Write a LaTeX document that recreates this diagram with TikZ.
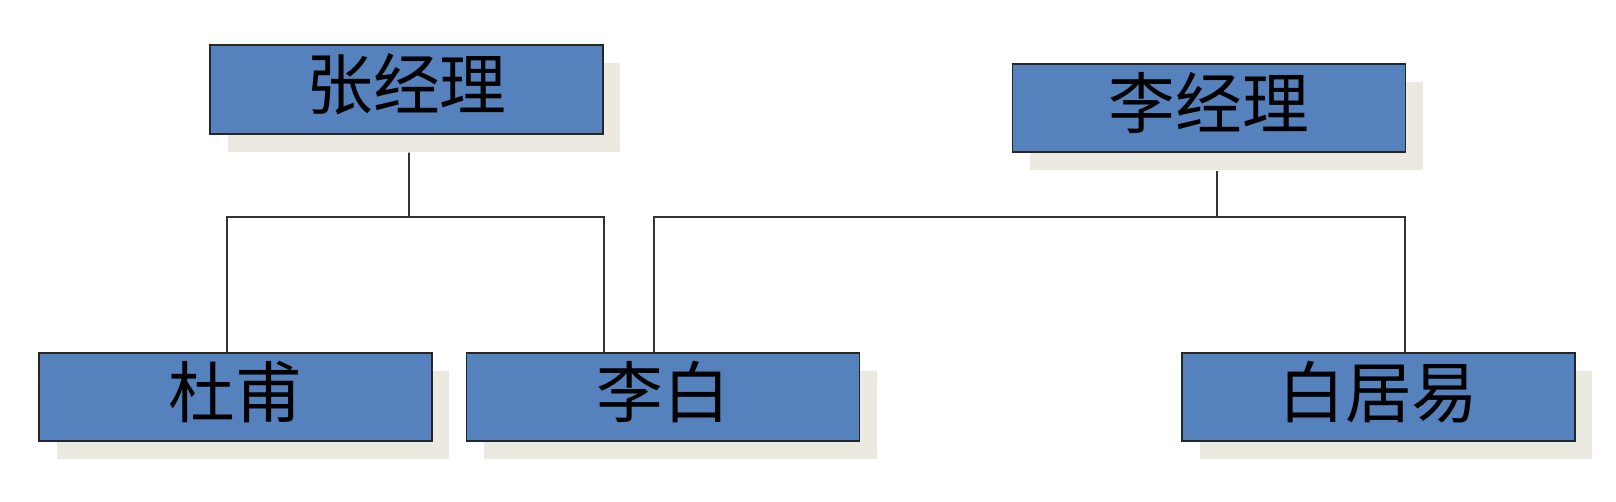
\documentclass[tikz,border=0pt]{standalone}
\usepackage{fontspec}
\newfontfamily\cjk{Noto Sans CJK SC}
\usetikzlibrary{shadows}

\definecolor{boxblue}{HTML}{5581BD}
\definecolor{shadowbeige}{HTML}{ECE9E0}

\tikzset{
  person/.style={rectangle, draw=black!85, line width=1pt, fill=boxblue,
    minimum width=7.86cm, minimum height=1.77cm, inner sep=0pt,
    font=\cjk\fontsize{38}{42}\selectfont, text height=33pt, text depth=10pt,
    general shadow={shadow xshift=0.35cm, shadow yshift=-0.36cm, fill=shadowbeige}},
  link/.style={draw=black!80, line width=0.9pt}
}

\begin{document}
\begin{tikzpicture}[x=0.02cm, y=-0.02cm]

\useasboundingbox (0,0) rectangle (1616,502);

% managers
\node[person] (zjl) at (406.5,89.5) {张经理};
\node[person] (ljl) at (1209,108) {李经理};

% staff
\node[person] (df)  at (235.5,397) {杜甫};
\node[person] (lb)  at (663,397)   {李白};
\node[person] (byy) at (1378.5,397) {白居易};

\coordinate (zbus) at (409,217);
\coordinate (lbus) at (1217,217);

\draw[link] ([xshift=0.05cm,yshift=-0.36cm]zjl.south) -- (zbus);
\draw[link] ([xshift=-0.17cm]df.north) |- (zbus) -| ([xshift=-1.18cm]lb.north);

\draw[link] ([xshift=0.16cm,yshift=-0.36cm]ljl.south) -- (lbus);
\draw[link] ([xshift=-0.18cm]lb.north) |- (lbus) -| ([xshift=0.53cm]byy.north);

\end{tikzpicture}
\end{document}
